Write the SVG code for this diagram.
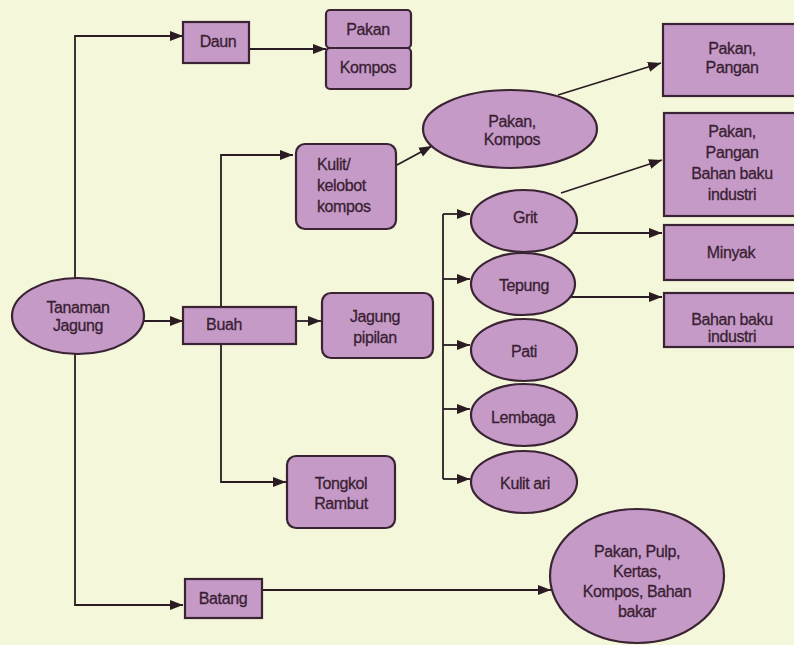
<svg xmlns="http://www.w3.org/2000/svg" width="794" height="645" viewBox="0 0 794 645">
  <defs>
    <marker id="arrow" markerUnits="userSpaceOnUse" markerWidth="14" markerHeight="11" refX="13" refY="5.5" orient="auto">
      <path d="M0,0.5 L13,5.5 L0,10.5 z" fill="#2a1c22"/>
    </marker>
    <style>
      .node { fill: #c59ac7; stroke: #3a2434; stroke-width: 2.2; }
      .lbl { font-family: "Liberation Sans", Arial, sans-serif; font-size: 16px; letter-spacing: -0.4px; fill: #3a1f33; stroke: #3a1f33; stroke-width: 0.3; text-anchor: middle; }
      .left { text-anchor: start; }
      .link { fill: none; stroke: #2a1c22; stroke-width: 1.8; }
      .arr { marker-end: url(#arrow); }
    </style>
  </defs>

  <rect x="0" y="0" width="794" height="645" fill="#f4f7da"/>

  <!-- connectors -->
  <g id="connectors">
    <path class="link arr" d="M75,280 V36 H183"/>
    <path class="link arr" d="M75,352 V605 H183"/>
    <path class="link arr" d="M249,49 H326"/>
    <path class="link arr" d="M144,321 H183"/>
    <path class="link arr" d="M221,321 V155 H293"/>
    <path class="link arr" d="M221,321 V482 H286"/>
    <path class="link arr" d="M296,321 H321"/>
    <path class="link arr" d="M397,165 L432,146"/>
    <path class="link arr" d="M558,95 L661,63"/>
    <path class="link" d="M443,214 V479"/>
    <path class="link arr" d="M443,214 H470"/>
    <path class="link arr" d="M443,279 H470"/>
    <path class="link arr" d="M443,345 H470"/>
    <path class="link arr" d="M443,409 H470"/>
    <path class="link arr" d="M443,479 H470"/>
    <path class="link arr" d="M561,193 L662,160"/>
    <path class="link arr" d="M573,233 H662"/>
    <path class="link arr" d="M568,297 H662"/>
    <path class="link arr" d="M262,590 H551"/>
  </g>

  <g id="tanaman-jagung">
    <ellipse class="node" cx="78" cy="316" rx="66" ry="38"/>
    <text class="lbl" x="78" y="313">Tanaman</text>
    <text class="lbl" x="78" y="331">Jagung</text>
  </g>

  <g id="daun">
    <rect class="node" x="183" y="22" width="66" height="41"/>
    <text class="lbl" x="218" y="47">Daun</text>
  </g>

  <g id="pakan">
    <rect class="node" x="326" y="10" width="85" height="38" rx="4"/>
    <text class="lbl" x="368" y="35">Pakan</text>
  </g>

  <g id="kompos">
    <rect class="node" x="326" y="48" width="85" height="41" rx="4"/>
    <text class="lbl" x="368" y="73">Kompos</text>
  </g>

  <g id="buah">
    <rect class="node" x="183" y="307" width="113" height="37"/>
    <text class="lbl" x="224" y="330">Buah</text>
  </g>

  <g id="kulit-kelobot">
    <rect class="node" x="296" y="144" width="100" height="85" rx="9"/>
    <text class="lbl left" x="317" y="170">Kulit/</text>
    <text class="lbl left" x="317" y="191">kelobot</text>
    <text class="lbl left" x="317" y="212">kompos</text>
  </g>

  <g id="jagung-pipilan">
    <rect class="node" x="322" y="293" width="111" height="65" rx="9"/>
    <text class="lbl" x="375" y="322">Jagung</text>
    <text class="lbl" x="375" y="343">pipilan</text>
  </g>

  <g id="tongkol-rambut">
    <rect class="node" x="287" y="456" width="108" height="72" rx="9"/>
    <text class="lbl" x="341" y="489">Tongkol</text>
    <text class="lbl" x="341" y="509">Rambut</text>
  </g>

  <g id="batang">
    <rect class="node" x="185" y="579" width="77" height="39"/>
    <text class="lbl" x="223" y="604">Batang</text>
  </g>

  <g id="pakan-kompos">
    <ellipse class="node" cx="510" cy="129" rx="87" ry="39"/>
    <text class="lbl" x="512" y="127">Pakan,</text>
    <text class="lbl" x="512" y="145">Kompos</text>
  </g>

  <g id="grit">
    <ellipse class="node" cx="524" cy="221" rx="53" ry="31"/>
    <text class="lbl" x="525" y="223">Grit</text>
  </g>

  <g id="tepung">
    <ellipse class="node" cx="523" cy="284" rx="52" ry="31"/>
    <text class="lbl" x="524" y="291">Tepung</text>
  </g>

  <g id="pati">
    <ellipse class="node" cx="524" cy="350" rx="53" ry="31"/>
    <text class="lbl" x="524" y="357">Pati</text>
  </g>

  <g id="lembaga">
    <ellipse class="node" cx="524" cy="415" rx="53" ry="31"/>
    <text class="lbl" x="523" y="423">Lembaga</text>
  </g>

  <g id="kulit-ari">
    <ellipse class="node" cx="524" cy="482" rx="53" ry="31"/>
    <text class="lbl" x="525" y="489">Kulit ari</text>
  </g>

  <g id="pakan-pangan">
    <rect class="node" x="663" y="24" width="140" height="72"/>
    <text class="lbl" x="732" y="54">Pakan,</text>
    <text class="lbl" x="732" y="73">Pangan</text>
  </g>

  <g id="pakan-pangan-bahan">
    <rect class="node" x="664" y="113" width="140" height="103"/>
    <text class="lbl" x="732" y="137">Pakan,</text>
    <text class="lbl" x="732" y="158">Pangan</text>
    <text class="lbl" x="732" y="179">Bahan baku</text>
    <text class="lbl" x="732" y="200">industri</text>
  </g>

  <g id="minyak">
    <rect class="node" x="664" y="225" width="140" height="55"/>
    <text class="lbl" x="731" y="258">Minyak</text>
  </g>

  <g id="bahan-baku">
    <rect class="node" x="664" y="293" width="140" height="54"/>
    <text class="lbl" x="732" y="325">Bahan baku</text>
    <text class="lbl" x="732" y="342">industri</text>
  </g>

  <g id="pakan-pulp">
    <ellipse class="node" cx="637" cy="576" rx="87" ry="67"/>
    <text class="lbl" x="637" y="557">Pakan, Pulp,</text>
    <text class="lbl" x="637" y="577">Kertas,</text>
    <text class="lbl" x="637" y="597">Kompos, Bahan</text>
    <text class="lbl" x="637" y="617">bakar</text>
  </g>
</svg>
